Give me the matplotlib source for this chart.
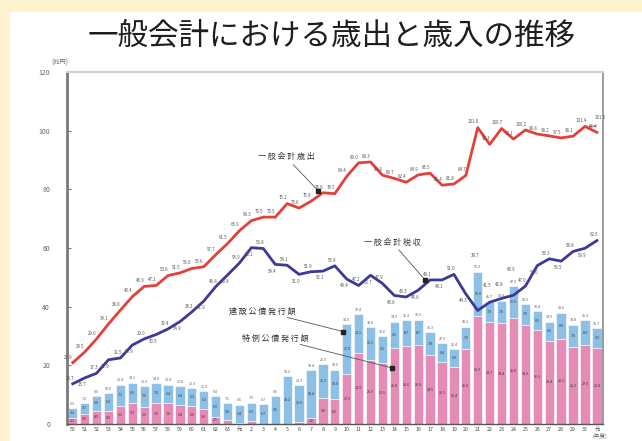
import matplotlib.pyplot as plt
from matplotlib.patches import Rectangle

plt.rcParams['font.family'] = ['Noto Sans CJK JP', 'DejaVu Sans']

# 年度ラベル (昭和50年度〜令和元年度)
years = [str(y) for y in range(50, 64)] + ['元'] + [str(y) for y in range(2, 31)] + ['元']

# 一般会計歳出 (兆円)
expenditure = [20.9, 24.5, 29.0, 34.1, 38.8, 43.4, 46.9, 47.2, 50.6, 51.5,
               53.0, 53.6, 57.7, 61.5, 65.9, 69.3, 70.5, 70.5, 75.1, 73.6,
               75.9, 78.8, 78.5, 84.4, 89.0, 89.3, 84.8, 83.7, 82.4, 84.9,
               85.5, 81.4, 81.8, 84.7, 101.0, 95.3, 100.7, 97.1, 100.2, 98.8,
               98.2, 97.5, 98.1, 101.4, 99.4]
expenditure_extra = 101.5  # 令和元年度 (臨時・特別の措置を含む)

# 一般会計税収 (兆円)
tax = [13.7, 15.7, 17.3, 21.9, 22.5, 26.9, 29.0, 30.5, 32.4, 34.9,
       38.2, 41.9, 46.8, 50.8, 54.9, 60.1, 59.8, 54.4, 54.1, 51.0,
       51.9, 52.1, 53.9, 49.4, 47.2, 50.7, 47.9, 43.8, 43.3, 45.6,
       49.1, 49.1, 51.0, 44.3, 38.7, 41.5, 42.8, 43.9, 47.0, 54.0,
       56.3, 55.5, 58.8, 59.9, 62.5]

# 建設公債発行額 (兆円)
construction = [3.2, 3.7, 5.0, 6.3, 7.1, 6.9, 7.0, 7.0, 6.4, 6.4,
                6.3, 6.2, 6.9, 5.8, 6.4, 6.3, 6.7, 9.5, 16.2, 12.6,
                16.4, 11.3, 10.0, 17.0, 13.1, 11.1, 9.1, 9.1, 8.7, 8.7,
                7.8, 6.4, 6.0, 7.6, 15.0, 7.0, 7.6, 11.0, 7.0, 6.5,
                6.5, 8.9, 7.6, 8.3, 6.9]

# 特例公債発行額 (兆円)
deficit = [2.1, 3.5, 4.5, 4.3, 6.3, 7.2, 5.9, 7.0, 7.0, 6.4,
           6.0, 5.0, 2.5, 1.3, 0.2, 1.0, 0.0, 0.0, 0.0, 0.7,
           2.0, 9.0, 8.5, 17.0, 24.3, 21.9, 20.9, 25.8, 26.6, 26.8,
           23.5, 21.1, 19.4, 25.6, 36.9, 34.7, 34.4, 36.0, 33.9, 31.9,
           28.4, 29.1, 26.2, 27.0, 25.8]

RED = '#e2413a'
NAVY = '#3b3a98'
BLUE_BAR = '#8dc0e6'
PINK_BAR = '#e48bb6'
LABEL = '#555555'

fig = plt.figure(figsize=(6.42, 4.41), dpi=100, facecolor='#fdf3cf')
fig.patches.append(Rectangle((0.0156, 0), 1, 0.973, transform=fig.transFigure,
                             facecolor='white', edgecolor='none', zorder=-1))

ax = fig.add_axes([0.104, 0.0385, 0.835, 0.7985])
ax.set_zorder(1)
ax.set_facecolor('white')

x = list(range(len(years)))
totals = [c + d for c, d in zip(construction, deficit)]

# 公債発行額の積み上げ棒
ax.bar(x, deficit, width=0.78, color=PINK_BAR, edgecolor='white', linewidth=0.4, zorder=2)
ax.bar(x, construction, width=0.78, bottom=deficit, color=BLUE_BAR,
       edgecolor='white', linewidth=0.4, zorder=2)

for i in x:
    ax.text(i, totals[i] + 0.8, f'{totals[i]:.1f}', ha='center', va='bottom',
            fontsize=2.6, color=LABEL, zorder=3)
    ax.text(i, deficit[i] + construction[i] / 2, f'{construction[i]:.1f}',
            ha='center', va='center', fontsize=2.6, color='#333333', zorder=3)
    if deficit[i] >= 2:
        ax.text(i, deficit[i] / 2, f'{deficit[i]:.1f}', ha='center', va='center',
                fontsize=2.6, color='#333333', zorder=3)

# 歳出と税収の折れ線
ax.plot(x, expenditure, color=RED, lw=2.0, zorder=4)
ax.plot([x[-2], x[-1]], [expenditure[-2], expenditure_extra], color=RED, lw=1.0,
        ls=(0, (2, 1)), zorder=4)
ax.plot(x, tax, color=NAVY, lw=2.0, zorder=4)

for i in x:
    ax.annotate(f'{expenditure[i]:.1f}', (i, expenditure[i]), xytext=(-3, 3),
                textcoords='offset points', ha='center', fontsize=3.2,
                color=LABEL, zorder=5)
    # 棒の上端に近い年は税収ラベルを棒ラベルより上に置く
    if tax[i] - totals[i] < 6:
        ax.text(i - 0.2, max(tax[i], totals[i] + 3.5) + 1.2, f'{tax[i]:.1f}',
                ha='center', va='bottom', fontsize=3.2, color=LABEL, zorder=5)
    else:
        dy = 3 if i % 2 == 0 else -6
        ax.annotate(f'{tax[i]:.1f}', (i, tax[i]), xytext=(-2, dy),
                    textcoords='offset points', ha='center', fontsize=3.2,
                    color=LABEL, zorder=5)
ax.annotate(f'{expenditure_extra:.1f}', (x[-1], expenditure_extra), xytext=(2, 5),
            textcoords='offset points', ha='center', fontsize=3.2, color=LABEL, zorder=5)

# 系列名の引き出し線
callouts = [
    ('一 般 会 計 歳 出', (17.9, 91.0), (20.6, 79.5)),
    ('一 般 会 計 税 収', (26.8, 62.0), (29.6, 49.0)),
    ('建 設 公 債 発 行 額', (15.9, 38.5), (22.7, 31.5)),
    ('特 例 公 債 発 行 額', (17.0, 29.3), (26.8, 19.1)),
]
for name, text_pos, point in callouts:
    ax.annotate(name, xy=point, xytext=text_pos, ha='center', va='center',
                fontsize=5.8, color='#333333', zorder=6,
                bbox=dict(boxstyle='square,pad=0.15', fc='white', ec='none'),
                arrowprops=dict(arrowstyle='-', color='#555555', lw=0.6,
                                shrinkA=2, shrinkB=0))
    ax.plot(*point, marker='s', ms=2.2, color='#222222', zorder=6)

ax.set_xlim(-0.5, len(years) - 0.5)
ax.set_ylim(0, 120)
ax.set_yticks(range(0, 121, 20))
ax.tick_params(axis='y', direction='in', length=3, width=0.8, colors='#777777',
               labelsize=5, labelcolor='#666666', pad=12)
ax.set_xticks(x)
ax.set_xticklabels(years, fontsize=3.8, color='#444444')
ax.tick_params(axis='x', length=0, pad=2)

ax.spines['left'].set_color('#7a7a7a')
ax.spines['left'].set_linewidth(2.0)
ax.spines['top'].set_color('#d0d0d0')
ax.spines['top'].set_linewidth(1.5)
ax.spines['right'].set_color('#8a8a8a')
ax.spines['right'].set_linewidth(1.2)
ax.spines['bottom'].set_color('#555555')
ax.spines['bottom'].set_linewidth(1.0)

fig.text(0.517, 0.918, '一般会計における歳出と歳入の推移', ha='center', va='center',
         fontsize=22, color='#1e1e1e')
fig.text(0.093, 0.859, '(兆円)', ha='center', va='center', fontsize=4.5, color='#666666')
fig.text(0.935, 0.004, '(年度)', ha='center', va='bottom', fontsize=4, color='#666666')

fig.savefig('out.png', dpi=100, facecolor=fig.get_facecolor())
